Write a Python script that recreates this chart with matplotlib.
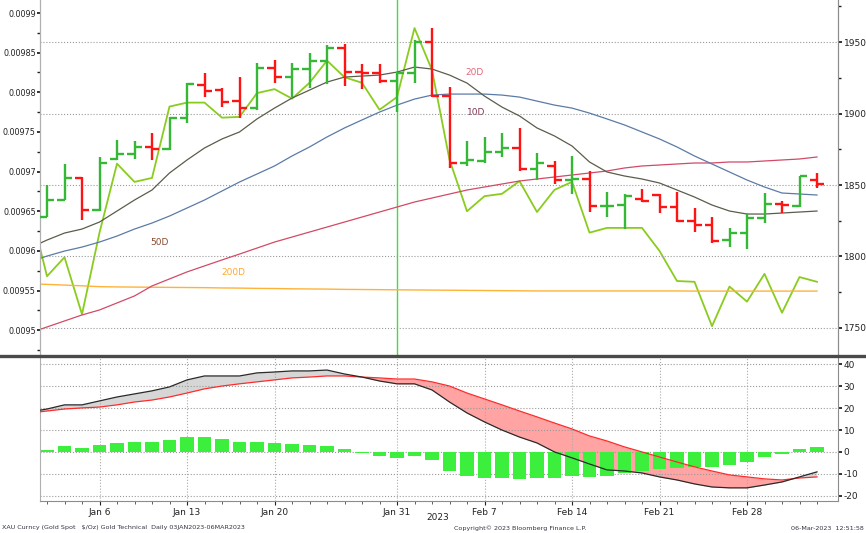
import numpy as np
import pandas as pd
import matplotlib
matplotlib.use("Agg")
import matplotlib.pyplot as plt
from matplotlib.lines import Line2D

plt.rcParams['font.family'] = ['DejaVu Sans']
plt.rcParams['axes.unicode_minus'] = False

# trading days 03JAN2023 - 06MAR2023
days = pd.bdate_range("2023-01-03", "2023-03-06")
x = np.arange(len(days))
# the lines carry one extra point (30 Dec) that is clipped at the left edge
x_line = np.arange(-1, len(days))

# XAU bars
opens = [1827.6, 1839.5, 1854.9, 1832.5, 1868.2, 1871.7, 1876.6, 1875.2, 1896.9, 1919.9,
         1916.4, 1908.7, 1903.8, 1931.8, 1925.5, 1931.1, 1936.7, 1945.8, 1929.0, 1928.3,
         1922.7, 1928.3, 1950.0, 1912.2, 1865.4, 1866.8, 1873.1, 1875.9, 1861.2, 1863.3,
         1853.5, 1854.2, 1835.3, 1836.0, 1840.2, 1843.0, 1834.6, 1824.8, 1822.0, 1811.5,
         1816.4, 1826.9, 1836.7, 1835.3, 1853.5]
highs = [1850.0, 1864.7, 1855.6, 1869.6, 1881.5, 1880.8, 1886.4, 1897.6, 1921.3, 1928.3,
         1917.8, 1925.5, 1935.3, 1937.4, 1935.3, 1942.3, 1947.9, 1948.6, 1934.6, 1934.6,
         1929.0, 1951.4, 1959.8, 1918.5, 1880.8, 1883.6, 1886.4, 1889.9, 1872.4, 1866.8,
         1870.3, 1859.8, 1845.0, 1843.7, 1847.2, 1843.7, 1845.0, 1833.9, 1827.6, 1819.9,
         1830.4, 1844.4, 1838.8, 1856.3, 1858.4]
lows = [1827.6, 1839.5, 1825.5, 1831.8, 1867.5, 1868.2, 1867.5, 1874.5, 1893.4, 1911.5,
        1904.5, 1896.9, 1902.4, 1921.3, 1911.5, 1917.8, 1920.6, 1919.2, 1917.1, 1921.3,
        1901.0, 1921.3, 1911.5, 1861.9, 1863.3, 1865.4, 1869.6, 1859.8, 1853.5, 1850.7,
        1843.7, 1831.1, 1827.6, 1819.2, 1838.1, 1830.4, 1824.1, 1817.1, 1809.4, 1806.6,
        1805.2, 1823.4, 1830.4, 1834.6, 1847.9]
closes = [1839.5, 1854.9, 1832.5, 1865.4, 1871.7, 1876.6, 1875.2, 1896.9, 1920.6, 1915.7,
          1908.0, 1903.8, 1931.8, 1925.5, 1931.1, 1936.7, 1945.8, 1929.0, 1928.3, 1922.7,
          1928.3, 1950.0, 1912.2, 1865.4, 1867.5, 1873.1, 1875.9, 1861.2, 1865.4, 1853.5,
          1854.2, 1835.3, 1835.5, 1842.3, 1838.8, 1834.6, 1824.8, 1822.0, 1810.8, 1816.4,
          1826.9, 1836.7, 1836.0, 1856.3, 1850.7]

# moving averages (price axis)
ma_10 = [1805.9, 1811.5, 1816.4, 1819.2, 1824.1, 1831.8, 1839.5, 1846.5, 1858.4, 1867.5,
         1875.9, 1882.2, 1887.1, 1896.2, 1903.8, 1910.8, 1916.4, 1922.0, 1925.5, 1926.2,
         1926.9, 1929.0, 1932.5, 1931.1, 1926.9, 1921.3, 1912.2, 1904.5, 1898.3, 1889.9,
         1884.3, 1877.3, 1866.1, 1859.1, 1856.3, 1854.2, 1851.4, 1846.5, 1841.6, 1836.0,
         1831.8, 1829.7, 1829.7, 1830.4, 1831.1, 1831.8]
ma_20 = [1796.2, 1800.3, 1803.8, 1806.6, 1810.1, 1814.3, 1819.2, 1823.4, 1828.3, 1833.9,
         1839.5, 1845.8, 1852.1, 1857.7, 1863.3, 1870.3, 1876.6, 1883.6, 1889.9, 1895.5,
         1901.0, 1905.9, 1910.1, 1912.9, 1913.6, 1913.6, 1913.6, 1912.9, 1911.5, 1908.7,
         1905.9, 1903.8, 1900.3, 1896.2, 1892.0, 1887.1, 1882.2, 1876.6, 1870.3, 1864.7,
         1859.1, 1853.5, 1848.6, 1844.4, 1843.7, 1843.0]
ma_50 = [1746.5, 1750.7, 1754.9, 1759.1, 1762.6, 1767.5, 1772.4, 1779.4, 1784.3, 1789.2,
         1793.4, 1797.6, 1801.7, 1805.9, 1810.1, 1813.6, 1817.1, 1820.6, 1824.1, 1827.6,
         1831.1, 1834.6, 1838.1, 1840.9, 1843.7, 1846.5, 1848.6, 1850.7, 1852.8, 1854.2,
         1855.6, 1857.0, 1858.4, 1859.8, 1861.9, 1863.3, 1864.0, 1864.7, 1865.4, 1865.4,
         1866.1, 1866.1, 1866.8, 1867.5, 1868.2, 1869.6]
ma_200 = [1780.8, 1780.5, 1780.0, 1779.5, 1778.9, 1778.7, 1778.6, 1778.5, 1778.4, 1778.3,
          1778.2, 1778.0, 1777.9, 1777.7, 1777.6, 1777.4, 1777.3, 1777.2, 1777.0, 1776.9,
          1776.8, 1776.7, 1776.6, 1776.5, 1776.4, 1776.3, 1776.2, 1776.1, 1776.0, 1775.9,
          1775.9, 1775.9, 1775.9, 1775.9, 1775.9, 1775.9, 1775.9, 1775.9, 1775.8, 1775.8,
          1775.8, 1775.8, 1775.8, 1775.8, 1775.8, 1775.8]

# second security (left axis)
lime = [0.009657, 0.009568, 0.009592, 0.009520, 0.009623, 0.009710, 0.009687, 0.009692, 0.009782, 0.009787,
        0.009787, 0.009768, 0.009769, 0.009799, 0.009804, 0.009792, 0.009812, 0.009840, 0.009819, 0.009812,
        0.009778, 0.009794, 0.009881, 0.009828, 0.009715, 0.009650, 0.009669, 0.009672, 0.009688, 0.009649,
        0.009677, 0.009687, 0.009623, 0.009629, 0.009629, 0.009629, 0.009600, 0.009562, 0.009561, 0.009505,
        0.009555, 0.009536, 0.009571, 0.009522, 0.009567, 0.009561]

# lower panel
osc_black = [18.3, 19.6, 21.5, 21.5, 23.3, 25.1, 26.5, 27.9, 29.7, 32.9,
             34.7, 34.7, 34.7, 36.1, 36.5, 37.0, 37.0, 37.4, 35.6, 34.2,
             32.4, 31.1, 31.1, 28.3, 22.8, 17.8, 13.7, 10.0, 6.8, 4.1,
             0.0, -2.7, -5.5, -8.2, -8.7, -9.6, -11.4, -12.8, -14.6, -16.0,
             -16.4, -16.4, -15.1, -13.7, -11.4, -9.1]
osc_red = [17.8, 18.7, 19.6, 20.1, 20.5, 21.5, 22.8, 23.7, 25.1, 26.9,
           28.8, 30.1, 31.1, 32.0, 32.9, 33.8, 34.2, 34.7, 34.7, 34.2,
           33.8, 33.3, 33.3, 32.0, 30.1, 26.9, 24.2, 21.5, 18.7, 16.0,
           13.2, 10.5, 7.3, 5.0, 2.3, 0.0, -2.3, -4.6, -6.8, -8.7,
           -10.5, -11.4, -12.3, -12.8, -11.9, -11.4]
hist = [0.9, 2.7, 1.8, 3.2, 4.1, 4.6, 4.6, 5.5, 6.8, 6.8,
        5.9, 4.6, 4.6, 4.1, 3.7, 3.2, 2.7, 1.4, -0.5, -1.8,
        -2.7, -1.8, -3.7, -8.7, -11.0, -11.9, -11.9, -12.3, -11.9, -11.9,
        -11.0, -11.4, -11.0, -9.6, -8.7, -7.8, -7.3, -6.8, -6.8, -5.9,
        -4.6, -2.3, -0.9, 1.4, 2.3]

tick_dates = ["2023-01-06", "2023-01-13", "2023-01-20", "2023-01-31",
              "2023-02-07", "2023-02-14", "2023-02-21", "2023-02-28"]
tick_labels = ["Jan 6", "Jan 13", "Jan 20", "Jan 31", "Feb 7", "Feb 14", "Feb 21", "Feb 28"]
left_ticks = [0.0095, 0.00955, 0.0096, 0.00965, 0.0097, 0.00975, 0.0098, 0.00985, 0.0099]
left_labels = ["0.0095", "0.00955", "0.0096", "0.00965", "0.0097", "0.00975", "0.0098", "0.00985", "0.0099"]
right_ticks = [1750, 1800, 1850, 1900, 1950]
osc_ticks = [-20, -10, 0, 10, 20, 30, 40]

W, H = 866, 533
fig = plt.figure(figsize=(W / 100, H / 100), dpi=100)

ax = fig.add_axes([40 / W, 1 - 355 / H, 798 / W, 355 / H])
axr = ax.twinx()
axb = fig.add_axes([40 / W, 1 - 501 / H, 798 / W, 143 / H], sharex=ax)

tick_pos = [days.get_loc(pd.Timestamp(d)) for d in tick_dates]

# ---- main panel ----
ax.plot(x_line, lime, color='#8acc1e', lw=1.3, zorder=2)
ax.axvline(days.get_loc(pd.Timestamp("2023-01-31")), color='#3ee03a', lw=1.0, zorder=1)
ax.set_ylim(0.0094687, 0.0099164)
ax.set_yticks(left_ticks)
ax.set_yticklabels(left_labels)
ax.set_yticks([v + 0.000025 for v in left_ticks[:-1]] + [0.009475], minor=True)
ax.tick_params(axis='y', which='major', labelsize=5.8, length=2.5, width=1.3, pad=0.5, colors='#222222')
ax.tick_params(axis='y', which='minor', length=2, width=1.0, color='#222222')
ax.tick_params(axis='x', which='both', length=0, labelbottom=False)

axr.plot(x_line, ma_200, color='#ffb238', lw=1.0, zorder=2)
axr.plot(x_line, ma_50, color='#d24a66', lw=0.9, zorder=2)
axr.plot(x_line, ma_20, color='#5b7ba6', lw=0.9, zorder=2)
axr.plot(x_line, ma_10, color='#5c5c4c', lw=0.9, zorder=2)

half = 0.42
for i in range(len(days)):
    c = '#35b835' if closes[i] >= opens[i] else '#ff1414'
    axr.vlines(x[i], lows[i], highs[i], color=c, lw=1.7, zorder=3)
    axr.hlines(opens[i], x[i] - half, x[i], color=c, lw=1.7, zorder=3)
    axr.hlines(closes[i], x[i], x[i] + half, color=c, lw=1.7, zorder=3)

axr.set_ylim(1731.1, 1979.4)
axr.set_yticks(right_ticks)
axr.set_yticks([1775, 1825, 1875, 1925, 1975], minor=True)
axr.tick_params(axis='y', which='major', labelsize=6.5, length=3, width=1.3, pad=1, colors='#222222')
axr.tick_params(axis='y', which='minor', length=2, width=1.0, color='#222222')
axr.grid(axis='y', linestyle=':', color='#9a9a9a', lw=0.8)

for a in (ax, axr):
    a.spines['top'].set_visible(False)
    a.spines['bottom'].set_visible(False)
    a.spines['left'].set_color('#b0b0b0')
    a.spines['right'].set_color('#8c8c8c')

ax.text(0.545, 0.797, "20D", transform=ax.transAxes, color='#e2667a', fontsize=6.5, ha='center', va='center')
ax.text(0.546, 0.682, "10D", transform=ax.transAxes, color='#7c3553', fontsize=6.5, ha='center', va='center')
ax.text(0.150, 0.318, "50D", transform=ax.transAxes, color='#8a4a2c', fontsize=6.5, ha='center', va='center')
ax.text(0.242, 0.231, "200D", transform=ax.transAxes, color='#ffa82a', fontsize=6.5, ha='center', va='center')

# ---- lower panel ----
ob = np.array(osc_black)
orr = np.array(osc_red)
axb.fill_between(x_line, ob, orr, where=ob >= orr, interpolate=True, color='#d6d6d6', lw=0, zorder=1)
axb.fill_between(x_line, ob, orr, where=ob < orr, interpolate=True, color='#ffa3a3', lw=0, zorder=1)
axb.bar(x, hist, width=0.75, color='#3cef3c', zorder=2)
axb.plot(x_line, osc_red, color='#ff2a2a', lw=0.9, zorder=3)
axb.plot(x_line, osc_black, color='#2a2a2a', lw=0.9, zorder=3)

axb.set_ylim(-22.4, 42.9)
axb.yaxis.tick_right()
axb.set_yticks(osc_ticks)
axb.set_yticklabels([str(t) for t in osc_ticks])
axb.tick_params(axis='y', labelsize=6.5, length=3, width=1.3, pad=1, colors='#222222')
axb.grid(axis='y', linestyle=':', color='#9a9a9a', lw=0.8)

axb.set_xticks(tick_pos)
axb.set_xticklabels(tick_labels)
axb.set_xticks(x, minor=True)
axb.tick_params(axis='x', which='major', labelsize=6.5, length=3, pad=2, colors='#222222')
axb.tick_params(axis='x', which='minor', length=2, color='#444444')
axb.grid(axis='x', which='major', linestyle=':', color='#aaaaaa', lw=0.8)
axb.spines['top'].set_visible(False)
axb.spines['left'].set_color('#b0b0b0')
axb.spines['right'].set_color('#8c8c8c')
axb.spines['bottom'].set_color('#8c8c8c')

ax.set_xlim(-0.4, 45.2)

# separator between panels
fig.add_artist(Line2D([0, 1], [1 - 356 / H, 1 - 356 / H], color='#4a4a4a', lw=2.4))

fig.text(438 / W, 1 - 517 / H, "2023", fontsize=6.5, ha='center', va='center', color='#222222')
fig.text(2 / W, 1 - 528 / H, "XAU Curncy (Gold Spot   $/Oz) Gold Technical  Daily 03JAN2023-06MAR2023",
         fontsize=4.6, ha='left', va='center', color='#333344')
fig.text(520 / W, 1 - 528 / H, "Copyright\u00a9 2023 Bloomberg Finance L.P.",
         fontsize=4.6, ha='center', va='center', color='#333344')
fig.text(864 / W, 1 - 528 / H, "06-Mar-2023  12:51:58",
         fontsize=4.6, ha='right', va='center', color='#333344')

fig.savefig("out.png", dpi=100, facecolor='white')
